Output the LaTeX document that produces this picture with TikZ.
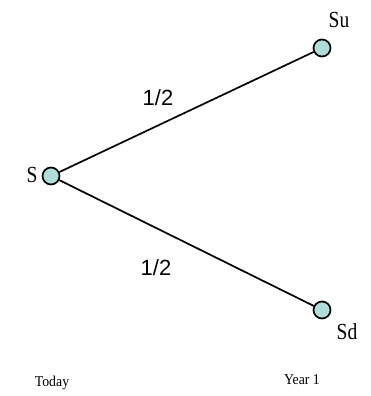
\documentclass[tikz,border=0pt]{standalone}
\usepackage{fontspec}
\setmainfont{Liberation Serif}
\newfontfamily\narrowserif[FakeStretch=0.85]{Liberation Serif}
\newfontfamily\smallserif[FakeStretch=0.92]{Liberation Serif}
\newfontfamily\halffont{Liberation Sans}
\definecolor{nodefill}{RGB}{176,220,218}
\begin{document}
\begin{tikzpicture}[x=1pt,y=-1pt,
  pt/.style={circle,draw=black,line width=1.7pt,fill=nodefill,minimum size=17pt,inner sep=0pt},
  lbl/.style={font=\narrowserif\fontsize{23}{23}\selectfont},
  half/.style={font=\halffont\fontsize{22}{22}\selectfont},
  small/.style={font=\smallserif\fontsize{15}{15}\selectfont},
  edge/.style={line width=1.7pt}]
\useasboundingbox (0,0) rectangle (370,396);
\node[pt] (s) at (51,176) {};
\node[pt] (su) at (322,48) {};
\node[pt] (sd) at (322,310) {};
\draw[edge] (s) -- (su);
\draw[edge] (s) -- (sd);
\node[lbl] (ls) at (32,175) {S};
\node[lbl] (lsu) at (339,20) {Su};
\node[lbl] (lsd) at (347,332) {Sd};
\node[half] (p1) at (158,98) {1/2};
\node[half] (p2) at (156,268) {1/2};
\node[small] (today) at (52,383) {Today};
\node[small] (year) at (302,380) {Year 1};
\end{tikzpicture}
\end{document}
